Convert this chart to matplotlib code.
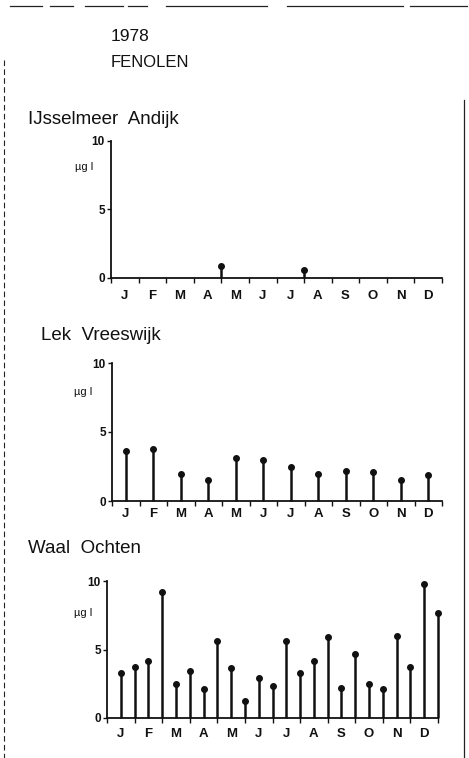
import matplotlib
matplotlib.use("Agg")
import matplotlib.pyplot as plt
from matplotlib.lines import Line2D

plt.rcParams['font.family'] = ['Liberation Sans', 'DejaVu Sans']

W, H = 469, 758

# month initials along the time axis
months = ['J', 'F', 'M', 'A', 'M', 'J', 'J', 'A', 'S', 'O', 'N', 'D']
month_centers = [0.5, 1.5, 2.5, 3.5, 4.5, 5.5, 6.5, 7.5, 8.5, 9.5, 10.5, 11.5]
month_edges = [0, 1, 2, 3, 4, 5, 6, 7, 8, 9, 10, 11, 12]

# IJsselmeer Andijk: only two samples above zero (time in months)
andijk_t = [4.0, 7.0]
andijk_y = [0.85, 0.6]

# Lek Vreeswijk: one sample per month
vreeswijk_t = [0.5, 1.5, 2.5, 3.5, 4.5, 5.5, 6.5, 7.5, 8.5, 9.5, 10.5, 11.5]
vreeswijk_y = [3.65, 3.75, 1.95, 1.55, 3.15, 3.0, 2.45, 1.95, 2.2, 2.1, 1.5, 1.85]

# Waal Ochten: two samples per month
ochten_t = [0.5, 1.0, 1.5, 2.0, 2.5, 3.0, 3.5, 4.0, 4.5, 5.0, 5.5, 6.0,
            6.5, 7.0, 7.5, 8.0, 8.5, 9.0, 9.5, 10.0, 10.5, 11.0, 11.5, 12.0]
ochten_y = [3.25, 3.7, 4.15, 9.2, 2.45, 3.45, 2.15, 5.6, 3.65, 1.25, 2.95, 2.35,
            5.65, 3.3, 4.15, 5.9, 2.2, 4.7, 2.45, 2.1, 5.95, 3.75, 9.8, 7.7]

yticks = [0, 5, 10]
ylabels = ['0', '5', '10']

INK = '#111111'

fig = plt.figure(figsize=(W / 100, H / 100), dpi=100)
fig.patch.set_facecolor('white')


def px_axes(left, right, bottom, top):
    # pixel box (y measured from the top) -> figure fraction rect
    return [left / W, 1 - bottom / H, (right - left) / W, (bottom - top) / H]


def panel(rect, t, y, label_pad, unit_x, unit_y):
    ax = fig.add_axes(rect)
    ax.vlines(t, 0, y, color=INK, lw=1.8, clip_on=False)
    ax.plot(t, y, 'o', color=INK, ms=4, mec=INK, clip_on=False)
    ax.set_xlim(0, 12)
    ax.set_ylim(0, 10)
    for s in ['top', 'right']:
        ax.spines[s].set_visible(False)
    for s in ['left', 'bottom']:
        ax.spines[s].set_linewidth(1.3)
        ax.spines[s].set_color(INK)
    ax.set_xticks(month_centers)
    ax.set_xticklabels(months, fontsize=9.5, fontweight='bold', color=INK)
    ax.set_xticks(month_edges, minor=True)
    ax.tick_params(axis='x', which='major', length=0, pad=label_pad)
    ax.tick_params(axis='x', which='minor', length=3.5, width=1.0,
                   direction='out', color=INK)
    ax.set_yticks(yticks)
    ax.set_yticklabels(ylabels, fontsize=8.5, fontweight='bold', color=INK)
    ax.tick_params(axis='y', length=3, width=1.0, pad=1.5, color=INK)
    ax.set_facecolor('none')
    ax.text(unit_x, unit_y, 'µg l', transform=ax.get_yaxis_transform(),
            fontsize=8, ha='right', va='center', color=INK)
    return ax


panel(px_axes(111, 442, 278, 141), andijk_t, andijk_y, 9, -0.055, 8.1)
panel(px_axes(112, 442, 501, 363), vreeswijk_t, vreeswijk_y, 5, -0.06, 7.9)
panel(px_axes(107, 438, 718, 581), ochten_t, ochten_y, 7, -0.045, 7.7)

# headings
def label(x, y, s, size):
    fig.text(x / W, 1 - y / H, s, fontsize=size, ha='left', va='baseline',
             color=INK)

label(111, 41, '1978', 12.5)
label(111, 67, 'FENOLEN', 12)
label(28, 124, 'IJsselmeer  Andijk', 13.5)
label(41, 340, 'Lek  Vreeswijk', 13.5)
label(28, 553, 'Waal  Ochten', 13.5)

# page frame lines
def frame_line(xs, ys, **kw):
    fig.add_artist(Line2D([x / W for x in xs], [1 - y / H for y in ys],
                          transform=fig.transFigure, color='#222222', **kw))

for a, b in [(10, 42), (50, 73), (85, 123), (128, 147), (166, 267),
             (287, 403), (410, 467)]:
    frame_line([a, b], [6, 6], lw=0.9)
frame_line([4, 4], [60, 758], lw=0.8, linestyle=(0, (5, 3)))
frame_line([464, 464], [100, 758], lw=0.9)

fig.savefig('out.png', dpi=100, facecolor='white')
